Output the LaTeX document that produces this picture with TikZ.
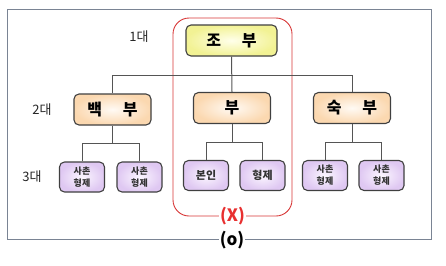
\documentclass[tikz,border=0pt]{standalone}
\usepackage{fontspec}
\newfontfamily\kr{Noto Sans CJK KR}
\usetikzlibrary{calc}
\definecolor{boxline}{HTML}{404040}
\definecolor{frameline}{HTML}{7A8494}
\definecolor{redline}{HTML}{D83838}
\definecolor{redtext}{HTML}{E83030}
\definecolor{yelin}{HTML}{FFFFEA}
\definecolor{yelout}{HTML}{F2F294}
\definecolor{pchin}{HTML}{FFFAF4}
\definecolor{pchout}{HTML}{FBD8B0}
\definecolor{lavin}{HTML}{FBF6FF}
\definecolor{lavout}{HTML}{DFC8F2}
\definecolor{conn}{HTML}{555555}
\tikzset{
  famboxbase/.style={draw=boxline, line width=1.1pt, rounded corners=5pt, inner sep=0pt, align=center},
  lvlone/.style={famboxbase, shade, inner color=yelin, outer color=yelout, minimum width=91pt, minimum height=31pt, font=\kr\bfseries\fontsize{16}{16}\selectfont},
  lvltwo/.style={famboxbase, shade, inner color=pchin, outer color=pchout, minimum width=77pt, minimum height=31pt, font=\kr\bfseries\fontsize{16}{16}\selectfont},
  lvlthree/.style={famboxbase, shade, inner color=lavin, outer color=lavout, minimum width=45pt, minimum height=30pt, font=\kr\bfseries\fontsize{9}{12}\selectfont, text=black!80},
  lvlthreebig/.style={lvlthree, font=\kr\bfseries\fontsize{11}{12}\selectfont},
  genlabel/.style={font=\kr\fontsize{13}{13}\selectfont, text=black!85},
  connline/.style={draw=conn, line width=1pt},
  marklabel/.style={fill=white, inner sep=1pt, font=\kr\bfseries\fontsize{17}{17}\selectfont}
}
\begin{document}
\begin{tikzpicture}[x=1pt,y=1pt]
\useasboundingbox (0,0) rectangle (446,-265);
\fill[white] (0,0) rectangle (446,-265);
% outer frame
\draw[frameline, line width=0.9pt] (7,-9) rectangle (431,-239);
% red box
\draw[redline, line width=0.9pt, rounded corners=16pt] (173,-18) rectangle (292,-216);
% nodes
\node[lvlone] (top) at (231.5,-40.5) {조\hspace{1.3em}부};
\node[lvltwo] (b1) at (112.5,-109.5) {백\hspace{1.3em}부};
\node[lvltwo] (b2) at (232,-108) {부};
\node[lvltwo] (b3) at (352,-108) {숙\hspace{1.3em}부};
\node[lvlthree] (c1) at (82,-177) {사촌\\형제};
\node[lvlthree] (c2) at (139.5,-177) {사촌\\형제};
\node[lvlthreebig] (c3) at (206,-175.5) {본인};
\node[lvlthreebig] (c4) at (262.5,-175.5) {형제};
\node[lvlthree] (c5) at (325,-175.5) {사촌\\형제};
\node[lvlthree] (c6) at (381.5,-175.5) {사촌\\형제};
% generation labels
\node[genlabel] (g1) at (139,-37) {1대};
\node[genlabel] (g2) at (42,-110) {2대};
\node[genlabel] (g3) at (32,-177) {3대};
% connectors
\coordinate (hl) at (0,-75);
\draw[connline] (top.south) -- (b2.north);
\draw[connline] (b1.north) |- (b3.north |- hl) -- (b3.north);
\draw[connline] (b1.south) -- ++(0,-18) coordinate (j1);
\draw[connline] (c1.north) |- (j1) -| (c2.north);
\draw[connline] (b2.south) -- ++(0,-18) coordinate (j2);
\draw[connline] (c3.north) |- (j2) -| (c4.north);
\draw[connline] (b3.south) -- ++(0,-18) coordinate (j3);
\draw[connline] (c5.north) |- (j3) -| (c6.north);
% marks
\node[marklabel, text=redtext] (mx) at (232.5,-216) {(X)};
\node[marklabel, text=black] (mo) at (232,-240) {(o)};
\end{tikzpicture}
\end{document}
